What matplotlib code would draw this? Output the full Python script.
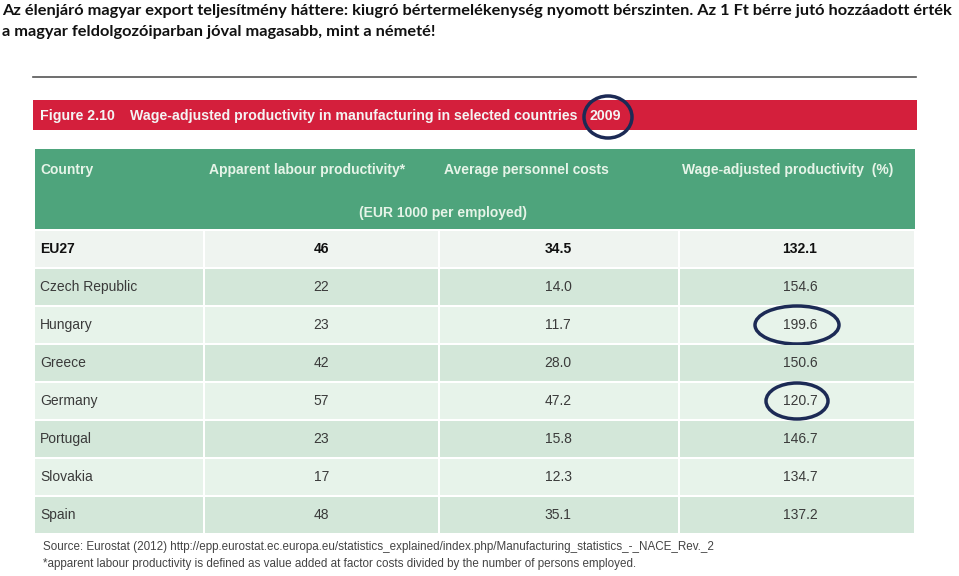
import matplotlib
matplotlib.use("Agg")
import matplotlib.pyplot as plt
from matplotlib.patches import Rectangle, Ellipse

title_lines = [
    "Az élenjáró magyar export teljesítmény háttere: kiugró bértermelékenység nyomott bérszinten. Az 1 Ft bérre jutó hozzáadott érték",
    "a magyar feldolgozóiparban jóval magasabb, mint a németé!",
]
fig_label = "Figure 2.10"
fig_title = "Wage-adjusted productivity in manufacturing in selected countries"
fig_year = "2009"
headers = ["Country", "Apparent labour productivity*", "Average personnel costs", "Wage-adjusted productivity  (%)"]
unit_label = "(EUR 1000 per employed)"
countries = ["EU27", "Czech Republic", "Hungary", "Greece", "Germany", "Portugal", "Slovakia", "Spain"]
productivity = ["46", "22", "23", "42", "57", "23", "17", "48"]
personnel_costs = ["34.5", "14.0", "11.7", "28.0", "47.2", "15.8", "12.3", "35.1"]
wage_adj = ["132.1", "154.6", "199.6", "150.6", "120.7", "146.7", "134.7", "137.2"]
highlighted = ["Hungary", "Germany"]
footnotes = [
    "Source: Eurostat (2012) http://epp.eurostat.ec.europa.eu/statistics_explained/index.php/Manufacturing_statistics_-_NACE_Rev._2",
    "*apparent labour productivity is defined as value added at factor costs divided by the number of persons employed.",
]

W, H = 959, 576
fig = plt.figure(figsize=(W / 100, H / 100), dpi=100)
ax = fig.add_axes([0, 0, 1, 1])
ax.set_xlim(0, W)
ax.set_ylim(H, 0)
ax.axis("off")

# Title
tfont = dict(family=["Lato", "DejaVu Sans"], fontweight="bold", fontsize=11.8, color="#111111")
ax.text(2, 11, title_lines[0], va="center", ha="left", **tfont)
ax.text(2, 32, title_lines[1], va="center", ha="left", **tfont)

# gray line
ax.plot([33, 916], [77, 77], color="#555555", lw=1.2)

# red bar
ax.add_patch(Rectangle((33, 100), 884, 30, facecolor="#d41f3c", edgecolor="none"))
rfont = dict(family="Liberation Sans", fontweight="bold", fontsize=10.2, color="#f4f4f4", va="center")
ax.text(40, 116, fig_label, ha="left", **rfont)
ax.text(130, 116, fig_title, ha="left", **rfont)
ax.text(590, 116, fig_year, ha="left", **rfont)
ax.add_patch(Ellipse((608, 117), 48, 42, facecolor="none", edgecolor="#1c2a55", lw=2.5))

# green header
col_edges = [35, 204, 439, 679, 915]
ax.add_patch(Rectangle((35, 149), 880, 80, facecolor="#4ea47c", edgecolor="none"))
hfont = dict(family="Liberation Sans", fontweight="bold", fontsize=10, color="#e6f4e8", va="center")
ax.text(40, 170, headers[0], ha="left", **hfont)
ax.text(307, 170, headers[1], ha="center", **hfont)
ax.text(526, 170, headers[2], ha="center", **hfont)
ax.text(788, 170, headers[3], ha="center", **hfont)
ax.text(443, 213, unit_label, ha="center", **hfont)

# rows
row_top0, row_h = 230, 38
row_colors = ["#eff4f0", "#d3e7d9", "#e7f3ea", "#d3e7d9", "#e7f3ea", "#d3e7d9", "#e7f3ea", "#d3e7d9"]
centers = [(col_edges[i] + col_edges[i + 1]) / 2 for i in range(4)]
for i, c in enumerate(countries):
    top = row_top0 + i * row_h
    for j in range(4):
        x0 = col_edges[j] + (0 if j == 0 else 1)
        x1 = col_edges[j + 1] - 1
        ax.add_patch(Rectangle((x0, top + 1), x1 - x0, row_h - 2,
                               facecolor=row_colors[i], edgecolor="none"))
    yc = top + row_h / 2
    bold = (i == 0)
    cf = dict(family="Liberation Sans", fontsize=10, va="center",
              color="#111111" if bold else "#3a3a3a",
              fontweight="bold" if bold else "normal")
    ax.text(40, yc, c, ha="left", **cf)
    ax.text(centers[1], yc, productivity[i], ha="center", **cf)
    ax.text(centers[2] - 1, yc, personnel_costs[i], ha="center", **cf)
    ax.text(centers[3] + 3, yc, wage_adj[i], ha="center", **cf)
    if c in highlighted:
        w = 84 if c == "Hungary" else 62
        ax.add_patch(Ellipse((centers[3] + 0, yc), w, 38 if c == "Hungary" else 36,
                             facecolor="none", edgecolor="#1c2a55", lw=2.5))

# footnotes
ffont = dict(family="Liberation Sans", fontsize=8.4, color="#444444", va="center", ha="left")
ax.text(43, 547, footnotes[0], **ffont)
ax.text(43, 564, footnotes[1], **ffont)

fig.savefig("out.png", dpi=100, facecolor="white")
